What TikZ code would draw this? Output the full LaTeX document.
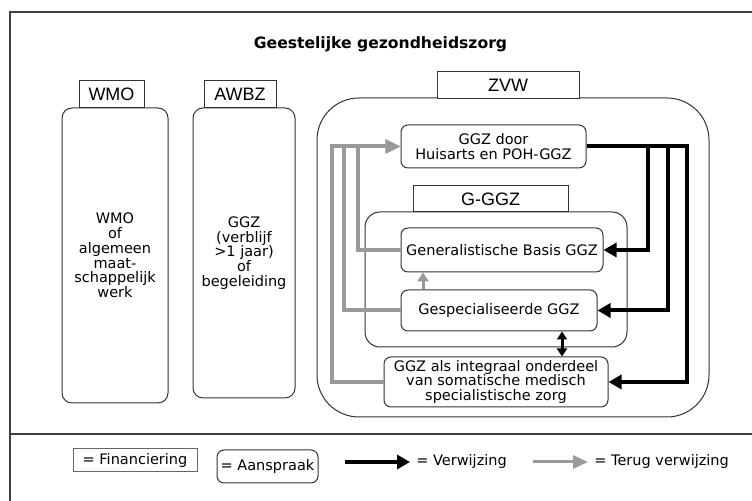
\documentclass[tikz,border=0pt]{standalone}
\usepackage{fontspec}
\setmainfont{DejaVu Sans}
\newfontfamily\labfont{Liberation Sans}
\usetikzlibrary{arrows.meta}
\usetikzlibrary{positioning}

\tikzset{
  txt/.style={font=\fontsize{7.25}{7.4}\selectfont},
  box/.style={txt, draw=black!80, line width=0.5pt, align=center, inner sep=1pt, fill=white},
  bigbox/.style={box, rounded corners=5pt},
  smallbox/.style={box, rounded corners=3.5pt},
  lab/.style={draw=black!80, line width=0.5pt, fill=white, font=\labfont\fontsize{9}{9}\selectfont, minimum height=13.5pt, inner sep=1pt},
  verw/.style={line width=2pt, -{Triangle[length=6.5pt,width=7pt]}},
  terug/.style={draw=gray!80, line width=2pt, -{Triangle[length=7.5pt,width=6.5pt]}},
}

\begin{document}
\begin{tikzpicture}[x=0.5pt,y=-0.5pt]
    \useasboundingbox (0,0) rectangle (752,501);
    \draw[black!75, line width=0.7pt] (752,12) -- (10,12) -- (10,501);
    \draw[black!75, line width=0.7pt] (10,434) -- (752,434);

    \node[font=\bfseries\fontsize{7.8}{8}\selectfont] (title) at (380.5,44) {Geestelijke gezondheidszorg};

    % WMO en AWBZ
    \node[bigbox, minimum width=53pt, minimum height=147.5pt] (wmobox) at (115,255.5)
      {WMO\\of\\algemeen\\maat-\\schappelijk\\werk};
    \node[lab, minimum width=32.5pt, above=-0.5pt of wmobox, xshift=-1.75pt] (wmolab) {WMO};
    \node[bigbox, minimum width=51pt, minimum height=145pt] (awbzbox) at (244,253)
      {GGZ\\(verblijf\\>1 jaar)\\of\\begeleiding};
    \node[lab, minimum width=36pt, above=-0.5pt of awbzbox, xshift=-2pt] (awbzlab) {AWBZ};

    % ZVW
    \node[box, rounded corners=21pt, minimum width=196pt, minimum height=159.5pt] (zvwbox) at (513,257.5) {};
    \node[lab, minimum width=71pt, above=-1pt of zvwbox, xshift=-2.5pt] (zvwlab) {ZVW};
    \node[smallbox, minimum width=92.5pt, minimum height=21.5pt] (huisarts) at (493.5,146.5)
      {GGZ door\\Huisarts en POH-GGZ};
    \node[box, rounded corners=7.5pt, minimum width=131pt, minimum height=67.5pt] (gggzbox) at (496,279.5) {};
    \node[lab, minimum width=77.5pt, minimum height=13pt, above=-0.5pt of gggzbox, xshift=-2.75pt] (gggzlab) {G-GGZ};
    \node[smallbox, minimum width=101pt, minimum height=22pt] (basis) at (502,250) {Generalistische Basis GGZ};
    \node[smallbox, minimum width=98pt, minimum height=20.5pt] (spec) at (499,310.5) {Gespecialiseerde GGZ};
    \node[smallbox, minimum width=112pt, minimum height=25pt] (somatic) at (496,382)
      {GGZ als integraal onderdeel\\van somatische medisch\\specialistische zorg};

    % verwijzing
    \draw[verw] (huisarts.east) -- ++(61,0) |- (basis.east);
    \draw[verw] (huisarts.east) -- ++(81,0) |- (spec.east);
    \draw[verw] (huisarts.east) -- ++(100,0) |- (somatic.east);
    \coordinate (link) at ([xshift=33pt]somatic.north);
    \draw[line width=1.5pt, {Triangle[length=4pt,width=5pt]}-{Triangle[length=4pt,width=5pt]}] (link) -- (link |- spec.south);

    % terug verwijzing
    \draw[terug] (basis.west) -- ++(-43,0) |- (huisarts.west);
    \draw[terug] (spec.west) -- ++(-57,0) |- (huisarts.west);
    \draw[terug] (somatic.west) -- ++(-52,0) |- (huisarts.west);
    \coordinate (up) at ([xshift=-38pt]spec.north);
    \draw[terug, line width=1.5pt, -{Triangle[length=4.5pt,width=5.5pt]}] (up) -- (up |- basis.south);

    % legenda
    \node[txt, draw=black!60, line width=0.5pt, minimum width=62pt, minimum height=11.5pt, inner sep=1pt] (fin) at (135,460.5) {= Financiering};
    \node[smallbox, minimum width=50.5pt, minimum height=16.5pt] (aan) at (267.5,466.5) {= Aanspraak};
    \coordinate (verwstart) at (345,462);
    \node[txt, anchor=west, inner sep=3pt] (verwtxt) at (410,462) {= Verwijzing};
    \draw[verw] (verwstart) -- (verwtxt.west);
    \coordinate (terugstart) at (533,462);
    \node[txt, anchor=west, inner sep=3pt] (terugtxt) at (588,462) {= Terug verwijzing};
    \draw[terug, line width=1.5pt] (terugstart) -- (terugtxt.west);
\end{tikzpicture}
\end{document}
